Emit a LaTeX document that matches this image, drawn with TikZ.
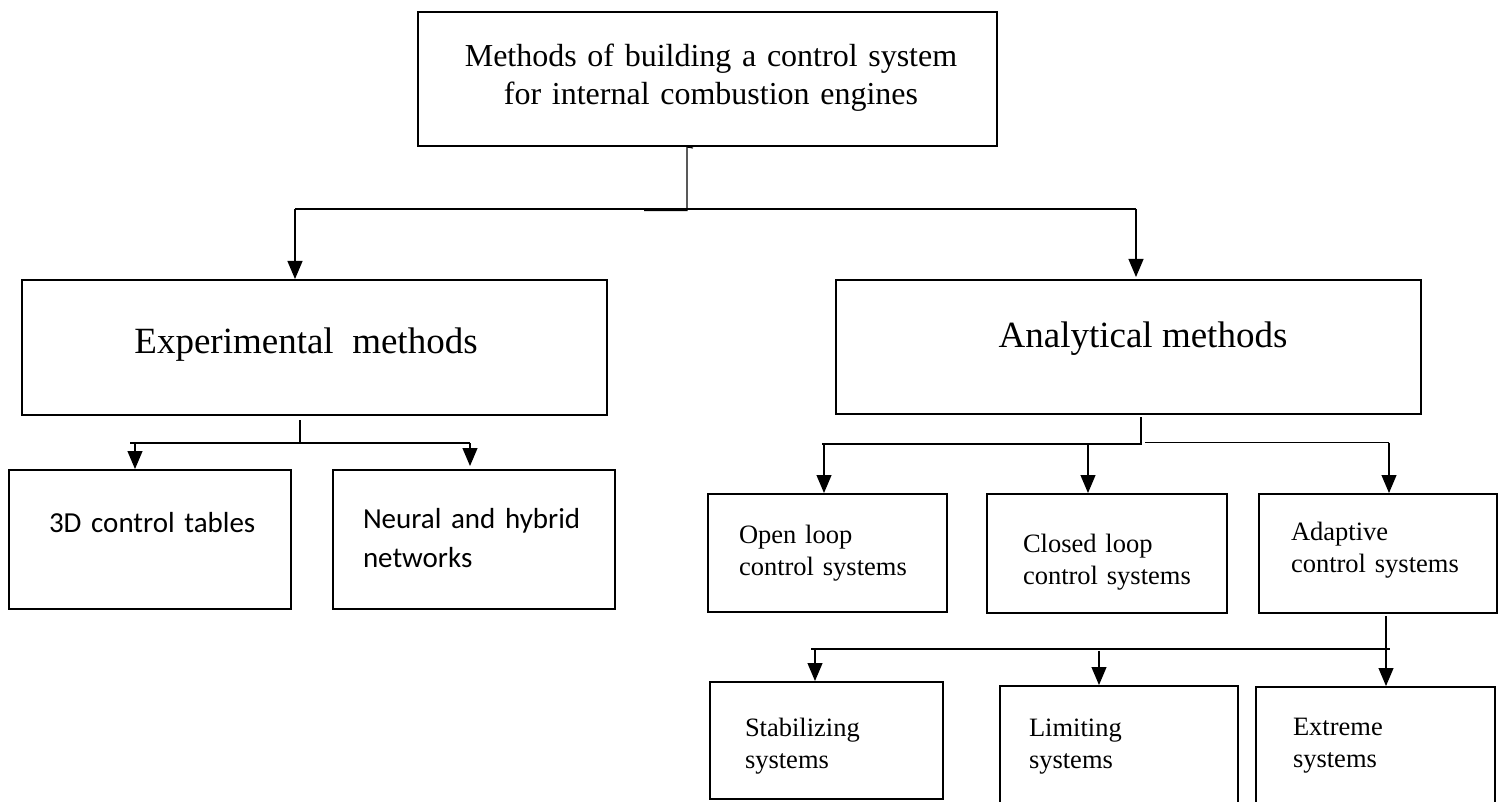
\documentclass[tikz,border=0pt]{standalone}
\usepackage{fontspec}
\setmainfont{Liberation Serif}
\newfontfamily\calib{Carlito}
\usetikzlibrary{arrows.meta}
\tikzset{
  box/.style={draw, line width=2pt, inner sep=0pt},
  conn/.style={line width=1.1pt},
  arr/.style={line width=1.1pt, -{Triangle[length=18pt,width=15pt]}},
  txt/.style={inner sep=0pt, outer sep=0pt},
  big/.style={txt, font=\fontsize{37}{44}\selectfont},
  ttl/.style={txt, font=\fontsize{32}{38}\selectfont, text width=560pt, align=center},
  small/.style={txt, font=\fontsize{26.5}{32.5}\selectfont, text width=220pt, align=left},
  cal/.style={txt, font=\calib\fontsize{29}{39}\selectfont, text width=270pt, align=left}
}
\begin{document}
\begin{tikzpicture}[x=1pt,y=-1pt]
\useasboundingbox (0,0) rectangle (1502,802);
% boxes
\node[box, minimum width=579pt, minimum height=134pt] (top) at (707.5,79) {};
\node[box, minimum width=585pt, minimum height=135pt] (exp) at (314.5,347.5) {};
\node[box, minimum width=585pt, minimum height=134pt] (ana) at (1128.5,347) {};
\node[box, minimum width=282pt, minimum height=139pt] (t3d) at (150,539.5) {};
\node[box, minimum width=282pt, minimum height=139pt] (neu) at (474,539.5) {};
\node[box, minimum width=239pt, minimum height=118pt] (open) at (827.5,553) {};
\node[box, minimum width=240pt, minimum height=119pt] (closed) at (1107,553.5) {};
\node[box, minimum width=238pt, minimum height=119pt] (adapt) at (1378,553.5) {};
\node[box, minimum width=233pt, minimum height=117pt] (stab) at (826.5,740.5) {};
\node[box, minimum width=238pt, minimum height=129pt] (lim) at (1119,750.5) {};
\node[box, minimum width=239pt, minimum height=128pt] (ext) at (1375.5,751) {};
% texts
\node[ttl, anchor=base] (ttop) at (711,67) {Methods of building a control system\\for internal combustion engines};
\node[big, anchor=base] (texp) at (306,353) {Experimental\ \ methods};
\node[big, anchor=base] (tana) at (1143,347) {Analytical methods};
\node[cal, anchor=base west] (tt3d) at (49,532) {3D control tables};
\node[cal, anchor=base west] (tneu) at (363,528) {Neural and hybrid\\networks};
\node[small, anchor=base west] (topen) at (739,543) {Open loop\\control systems};
\node[small, anchor=base west] (tclosed) at (1023,552) {Closed loop\\control systems};
\node[small, anchor=base west] (tadapt) at (1291,540) {Adaptive\\control systems};
\node[small, anchor=base west] (tstab) at (745,736) {Stabilizing\\systems};
\node[small, anchor=base west] (tlim) at (1029,736) {Limiting\\systems};
\node[small, anchor=base west] (text) at (1293,735) {Extreme\\systems};
% level 1 connectors
\coordinate (s0) at (693,148);
\coordinate (j1) at (687,209);
\coordinate (j1b) at (687,210.5);
\coordinate (s1) at (644,210.5);
\coordinate (j1L) at (295,209);
\coordinate (j1R) at (1136,209);
\draw[conn] (s0) -- (top.south -| j1) -- (j1b) -- (s1);
\draw[conn] (j1L) -- (j1R);
\draw[arr] (j1L) -- (exp.north -| j1L);
\draw[arr] (j1R) -- ([yshift=2pt]ana.north -| j1R);
% experimental connectors
\coordinate (j2) at (300,443);
\coordinate (j2L) at (130,443);
\coordinate (j2R) at (470,443);
\coordinate (a2L) at (135,444);
\draw[conn, shorten <=4pt] (exp.south -| j2) -- (j2);
\draw[conn] (j2L) -- (j2R);
\draw[arr] (a2L) -- (t3d.north -| a2L);
\draw[arr] (j2R) -- ([yshift=3pt]neu.north -| j2R);
% analytical connectors
\coordinate (j3) at (1141,444);
\coordinate (j3L) at (822,444);
\coordinate (j3R0) at (1145,442.5);
\coordinate (j3R) at (1389,442.5);
\coordinate (a3a) at (824,445);
\coordinate (a3b) at (1088,445);
\draw[conn, shorten <=2pt] (ana.south -| j3) -- (j3) -- (j3L);
\draw[conn] (j3R0) -- (j3R);
\draw[arr] (a3a) -- (open.north -| a3a);
\draw[arr] (a3b) -- (closed.north -| a3b);
\draw[arr] (j3R) -- (adapt.north -| j3R);
% adaptive connectors
\coordinate (j4) at (1386,649);
\coordinate (j4L) at (811,649);
\coordinate (j4R) at (1390,649);
\coordinate (a4a) at (815,650);
\coordinate (a4b) at (1099,651);
\draw[conn, shorten <=2pt] (adapt.south -| j4) -- (j4);
\draw[conn] (j4L) -- (j4R);
\draw[arr] (a4a) -- (stab.north -| a4a);
\draw[arr] (a4b) -- (lim.north -| a4b);
\draw[arr] (j4) -- (ext.north -| j4);
\end{tikzpicture}
\end{document}
